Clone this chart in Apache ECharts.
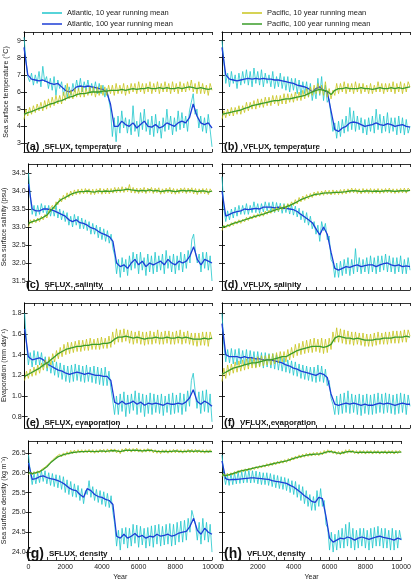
<!DOCTYPE html>
<html>
<head>
<meta charset="utf-8">
<script src="https://cdn.jsdelivr.net/npm/echarts@6/dist/echarts.min.js"></script>
<style>
html, body { margin: 0; padding: 0; background: #fff; }
#chart { width: 414px; height: 582px; }
</style>
</head>
<body>
<div id="chart"></div>
<script>
// sample grids: 10-year series every 100 years, 100-year series every 200 years
var years10 = [];
for (var i = 0; i <= 100; i++) years10.push(i * 100);
var years100 = [];
for (var j = 0; j <= 50; j++) years100.push(j * 200);

var legendNames = ['Atlantic, 10 year running mean', 'Atlantic, 100 year running mean',
                   'Pacific, 10 year running mean', 'Pacific, 100 year running mean'];

var tempTicks = [3, 4, 5, 6, 7, 8, 9];
var salTicks = [31.5, 32.0, 32.5, 33.0, 33.5, 34.0, 34.5];
var evapTicks = [0.8, 1.0, 1.2, 1.4, 1.6, 1.8];
var densTicks = [24.0, 24.5, 25.0, 25.5, 26.0, 26.5];
var yearTicks = [0, 2000, 4000, 6000, 8000, 10000];

// (a) SFLUX temperature
var a_atl10 = [9.2,7.9,6.9,6.6,7.1,6.4,7.0,6.5,7.2,6.3,
  7.5,6.6,6.9,6.2,6.8,6.1,6.9,5.8,6.7,6.2,
  6.6,5.8,6.4,5.7,6.3,5.8,6.5,6.0,6.7,6.1,
  6.8,6.0,6.6,6.1,6.7,6.0,6.5,6.0,6.6,5.9,
  6.5,5.9,6.4,5.7,6.2,5.6,5.0,3.4,4.5,3.1,
  4.6,3.6,4.9,3.9,4.5,3.6,4.4,3.5,5.2,3.7,
  4.3,3.4,4.8,3.8,5.0,3.7,4.4,3.5,4.6,3.4,
  4.7,3.6,4.3,3.3,4.5,3.7,5.0,3.8,4.6,3.5,
  4.5,3.7,4.9,3.8,4.8,3.9,4.6,3.7,4.9,5.4,
  5.9,4.7,5.0,3.9,4.6,3.7,4.5,3.6,4.7,3.8,
  2.8];
var a_atl100 = [8.6,7.0,6.75,6.7,6.65,6.7,6.6,6.5,6.45,6.5,
  6.3,6.1,6.0,6.1,6.3,6.35,6.3,6.35,6.3,6.25,
  6.2,6.15,6.0,5.3,4.0,4.0,4.3,4.1,4.0,4.2,
  3.9,4.1,4.3,4.0,3.95,4.1,3.9,4.0,4.2,4.1,
  4.0,4.2,4.3,4.2,4.5,5.3,4.6,4.2,4.1,4.2,
  3.9];
var a_pac10 = [4.4,5.0,4.6,5.1,4.7,5.2,4.8,5.3,4.9,5.4,
  4.9,5.5,5.0,5.6,5.1,5.7,5.2,5.8,5.3,5.8,
  5.3,6.0,5.5,6.5,5.6,6.1,5.6,6.2,5.7,6.2,
  5.7,6.3,5.7,6.2,5.8,6.3,5.8,6.3,5.7,6.3,
  5.8,6.4,5.8,6.3,5.8,6.4,5.9,6.4,5.8,6.5,
  5.9,6.4,5.9,6.5,5.8,6.4,5.9,6.5,6.0,6.5,
  5.9,6.6,6.0,6.5,5.9,6.5,6.0,6.6,5.9,6.5,
  6.0,6.6,5.9,6.5,6.0,6.6,6.0,6.5,5.9,6.6,
  6.0,6.5,5.9,6.6,6.0,6.5,6.0,6.6,6.1,6.7,
  6.0,6.5,5.9,6.6,5.9,6.5,5.9,6.4,5.8,6.5,
  6.1];
var a_pac100 = [4.7,4.8,4.85,4.95,5.05,5.1,5.2,5.3,5.35,5.45,
  5.5,5.6,5.7,5.75,5.85,5.9,5.9,5.95,6.0,6.0,
  6.0,6.05,6.05,6.1,6.1,6.1,6.15,6.1,6.15,6.2,
  6.15,6.2,6.2,6.25,6.2,6.2,6.25,6.2,6.25,6.2,
  6.2,6.25,6.2,6.25,6.3,6.25,6.2,6.25,6.2,6.15,
  6.2];

// (b) VFLUX temperature
var b_atl10 = [9.0,7.8,6.5,7.1,6.3,7.2,6.5,7.0,6.2,7.1,
  6.4,7.2,6.5,7.3,6.4,7.2,6.3,7.4,6.5,7.2,
  6.4,7.3,6.3,7.1,6.5,7.0,6.3,7.2,6.2,6.9,
  6.3,7.1,6.2,6.9,6.1,6.9,6.0,6.8,6.1,6.8,
  5.9,6.7,5.8,6.6,5.9,6.6,5.7,6.5,5.5,6.2,
  5.6,6.8,5.8,6.9,5.5,6.4,5.4,5.6,4.6,3.7,
  4.2,3.3,4.3,3.4,4.4,3.6,4.6,3.7,5.1,3.8,
  4.9,3.7,4.6,3.8,4.5,3.6,4.4,3.5,4.5,3.7,
  4.6,3.6,5.0,3.8,4.7,3.6,4.6,3.7,4.8,3.6,
  4.5,3.7,4.5,3.5,4.6,3.6,4.5,3.5,4.4,3.6,
  4.0];
var b_atl100 = [8.6,7.0,6.75,6.7,6.65,6.7,6.75,6.8,6.75,6.8,
  6.75,6.8,6.75,6.75,6.7,6.7,6.65,6.6,6.55,6.5,
  6.4,6.35,6.3,6.2,6.0,6.2,6.3,6.1,6.0,4.9,
  3.8,3.7,3.9,4.0,4.2,4.25,4.2,4.1,4.0,4.05,
  4.1,4.2,4.1,4.05,4.15,4.1,4.0,4.05,4.1,4.0,
  3.95];
var b_pac10 = [4.4,4.9,4.5,5.0,4.6,5.1,4.6,5.1,4.7,5.2,
  4.7,5.2,4.8,5.4,4.9,5.4,5.0,5.5,5.0,5.6,
  5.1,5.6,5.1,5.7,5.2,5.7,5.2,5.8,5.3,5.8,
  5.2,5.8,5.3,5.9,5.3,5.9,5.4,5.9,5.4,6.0,
  5.5,6.0,5.5,6.1,5.6,6.2,5.7,6.3,5.8,6.4,
  5.9,6.5,5.9,6.4,5.8,6.6,5.7,6.2,5.6,6.1,
  5.8,6.5,5.9,6.5,6.0,6.6,5.9,6.5,6.0,6.5,
  5.9,6.6,6.0,6.5,5.9,6.5,6.0,6.4,5.9,6.5,
  5.9,6.4,6.0,6.6,6.0,6.5,5.9,6.5,6.0,6.5,
  6.0,6.6,5.9,6.5,6.0,6.6,5.9,6.5,6.0,6.6,
  6.3];
var b_pac100 = [4.7,4.75,4.8,4.85,4.9,4.95,5.05,5.1,5.2,5.25,
  5.3,5.35,5.4,5.45,5.5,5.5,5.55,5.6,5.6,5.65,
  5.7,5.75,5.8,5.9,6.0,6.1,6.15,6.1,6.05,5.85,
  6.1,6.2,6.2,6.25,6.2,6.2,6.2,6.25,6.2,6.2,
  6.15,6.2,6.25,6.2,6.2,6.25,6.2,6.25,6.2,6.25,
  6.3];

// (c) SFLUX salinity
var c_atl10 = [34.5,33.8,33.35,33.6,33.3,33.6,33.35,33.65,33.4,33.6,
  33.35,33.6,33.3,33.55,33.3,33.6,33.25,33.5,33.2,33.45,
  33.15,33.4,33.05,33.3,33.0,33.35,33.05,33.3,32.95,33.25,
  32.95,33.2,32.9,33.15,32.8,33.1,32.8,33.05,32.7,33.0,
  32.65,32.95,32.6,32.9,32.55,32.8,32.4,32.2,31.7,32.1,
  31.6,32.15,31.75,32.1,31.65,32.2,31.8,32.3,31.85,32.25,
  31.7,32.3,31.8,32.15,31.65,32.25,31.75,32.2,31.7,32.3,
  31.75,32.2,31.8,32.25,31.7,32.35,31.85,32.2,31.75,32.25,
  31.7,32.2,31.8,32.3,31.75,32.25,31.85,32.35,32.0,32.65,
  32.8,32.3,32.0,32.25,31.75,32.3,31.85,32.3,31.8,32.2,
  31.5];
var c_atl100 = [34.2,33.5,33.45,33.45,33.5,33.5,33.48,33.45,33.4,33.35,
  33.3,33.2,33.15,33.2,33.12,33.1,33.05,32.98,32.95,32.88,
  32.82,32.78,32.73,32.6,32.0,31.9,31.95,31.85,32.0,32.1,
  31.95,32.05,31.9,32.0,31.95,32.0,32.05,31.95,32.1,32.0,
  31.95,32.05,32.0,32.05,32.2,32.45,32.1,31.95,32.1,32.05,
  32.0];
var c_pac10 = [33.0,33.2,33.1,33.22,33.12,33.25,33.15,33.3,33.2,33.35,
  33.25,33.45,33.4,33.6,33.5,33.7,33.62,33.8,33.7,33.88,
  33.76,33.95,33.82,34.0,33.86,34.03,33.9,34.05,33.91,34.06,
  33.92,34.07,33.93,34.06,33.9,34.05,33.9,34.06,33.93,34.08,
  33.91,34.06,33.92,34.08,33.92,34.07,33.94,34.1,33.95,34.1,
  33.96,34.12,33.96,34.1,33.98,34.18,33.95,34.1,33.94,34.08,
  33.93,34.08,33.95,34.1,33.93,34.08,33.96,34.1,33.93,34.08,
  33.95,34.09,33.91,34.06,33.93,34.08,33.95,34.1,33.92,34.07,
  33.91,34.06,33.93,34.08,33.95,34.09,33.93,34.08,33.95,34.09,
  33.92,34.07,33.9,34.06,33.93,34.07,33.92,34.07,33.9,34.06,
  33.97];
var c_pac100 = [33.1,33.15,33.18,33.22,33.27,33.33,33.45,33.56,33.68,33.77,
  33.82,33.88,33.93,33.96,33.98,33.98,34.0,33.98,33.97,34.0,
  33.98,34.0,33.99,34.0,34.02,34.02,34.03,34.05,34.03,34.02,
  34.0,34.02,34.0,34.03,34.0,34.02,33.98,34.0,34.02,34.0,
  33.98,34.0,34.02,34.0,34.02,34.0,33.98,34.0,34.0,33.97,
  34.0];

// (d) VFLUX salinity
var d_atl10 = [34.4,33.5,33.15,33.45,33.2,33.5,33.25,33.55,33.3,33.6,
  33.35,33.6,33.35,33.65,33.35,33.6,33.4,33.7,33.4,33.65,
  33.38,33.65,33.42,33.7,33.45,33.68,33.42,33.7,33.4,33.68,
  33.42,33.66,33.38,33.65,33.4,33.64,33.36,33.62,33.33,33.58,
  33.28,33.52,33.2,33.45,33.12,33.4,33.05,33.3,32.95,33.15,
  32.8,33.05,32.6,33.15,32.9,33.1,32.65,32.75,32.1,32.0,
  31.6,32.0,31.6,32.05,31.65,32.1,31.7,32.15,31.65,32.1,
  31.7,32.4,31.75,32.15,31.7,32.1,31.75,32.15,31.7,32.2,
  31.75,32.15,31.7,32.2,31.75,32.2,31.8,32.25,31.75,32.2,
  31.75,32.15,31.7,32.15,31.75,32.2,31.7,32.1,31.7,32.15,
  31.8];
var d_atl100 = [34.0,33.3,33.35,33.4,33.43,33.45,33.5,33.48,33.5,33.52,
  33.5,33.55,33.55,33.55,33.53,33.55,33.52,33.52,33.5,33.48,
  33.43,33.35,33.28,33.2,33.12,32.95,32.78,33.0,32.8,32.3,
  31.85,31.8,31.85,31.9,31.88,31.92,31.95,31.9,31.93,31.95,
  31.95,31.9,31.95,31.98,32.0,31.95,31.92,31.95,31.9,31.92,
  31.9];
var d_pac10 = [32.9,33.05,32.97,33.08,33.0,33.12,33.04,33.16,33.08,33.2,
  33.1,33.22,33.14,33.27,33.18,33.3,33.22,33.34,33.25,33.37,
  33.28,33.4,33.3,33.44,33.35,33.47,33.38,33.52,33.42,33.55,
  33.44,33.58,33.48,33.62,33.5,33.65,33.55,33.7,33.6,33.76,
  33.64,33.82,33.7,33.86,33.74,33.9,33.78,33.93,33.82,33.97,
  33.86,33.99,33.87,34.0,33.88,34.02,33.9,34.02,33.89,34.03,
  33.9,34.02,33.9,34.04,33.91,34.05,33.92,34.06,33.94,34.08,
  33.95,34.07,33.93,34.06,33.92,34.07,33.94,34.06,33.93,34.07,
  33.93,34.06,33.94,34.07,33.93,34.06,33.94,34.07,33.95,34.08,
  33.94,34.06,33.93,34.06,33.94,34.07,33.95,34.08,33.94,34.08,
  34.02];
var d_pac100 = [33.0,33.02,33.05,33.1,33.13,33.16,33.2,33.23,33.27,33.3,
  33.33,33.36,33.4,33.43,33.47,33.5,33.53,33.56,33.6,33.65,
  33.7,33.76,33.8,33.84,33.88,33.91,33.92,33.94,33.95,33.95,
  33.96,33.96,33.97,33.98,34.0,34.01,34.0,33.98,34.0,34.0,
  33.99,34.0,33.99,34.0,34.01,34.0,33.99,34.0,34.01,34.0,
  34.02];

// (e) SFLUX evaporation
var e_atl10 = [1.8,1.5,1.3,1.42,1.28,1.44,1.3,1.43,1.3,1.42,
  1.28,1.38,1.24,1.36,1.22,1.34,1.2,1.33,1.18,1.32,
  1.16,1.3,1.14,1.29,1.13,1.3,1.14,1.31,1.15,1.3,
  1.14,1.29,1.13,1.3,1.14,1.28,1.13,1.29,1.12,1.28,
  1.11,1.27,1.1,1.28,1.1,1.24,1.08,0.96,0.82,1.0,
  0.82,1.02,0.85,1.04,0.8,1.01,0.83,1.02,0.86,1.05,
  0.82,1.03,0.84,1.02,0.8,1.01,0.83,1.03,0.82,1.02,
  0.84,1.01,0.83,1.02,0.81,1.0,0.84,1.02,0.82,1.03,
  0.83,1.01,0.84,1.03,0.82,1.02,0.85,1.05,0.9,1.15,
  1.22,1.05,0.88,1.04,0.83,1.05,0.85,1.06,0.84,1.02,
  0.75];
var e_atl100 = [1.65,1.38,1.35,1.36,1.37,1.35,1.31,1.29,1.27,1.25,
  1.24,1.22,1.21,1.22,1.23,1.22,1.21,1.22,1.21,1.2,
  1.2,1.19,1.19,1.15,0.94,0.92,0.95,0.92,0.93,0.95,
  0.92,0.94,0.91,0.93,0.92,0.93,0.92,0.91,0.93,0.92,
  0.92,0.93,0.92,0.94,0.98,1.06,0.95,0.92,0.95,0.93,
  0.9];
var e_pac10 = [1.15,1.24,1.17,1.26,1.19,1.28,1.2,1.3,1.22,1.32,
  1.25,1.35,1.27,1.38,1.3,1.41,1.33,1.44,1.36,1.47,
  1.38,1.5,1.4,1.52,1.41,1.52,1.42,1.53,1.43,1.54,
  1.43,1.54,1.44,1.55,1.44,1.56,1.45,1.55,1.45,1.56,
  1.45,1.57,1.46,1.56,1.46,1.58,1.47,1.62,1.5,1.65,
  1.52,1.64,1.52,1.65,1.53,1.64,1.51,1.63,1.5,1.62,
  1.51,1.63,1.5,1.62,1.49,1.62,1.5,1.63,1.5,1.62,
  1.51,1.64,1.5,1.62,1.5,1.63,1.51,1.63,1.5,1.62,
  1.5,1.63,1.51,1.64,1.5,1.62,1.51,1.63,1.5,1.61,
  1.49,1.61,1.48,1.61,1.49,1.62,1.49,1.62,1.48,1.62,
  1.55];
var e_pac100 = [1.19,1.21,1.23,1.25,1.27,1.3,1.32,1.35,1.38,1.41,
  1.43,1.45,1.46,1.47,1.48,1.48,1.49,1.49,1.5,1.5,
  1.5,1.51,1.51,1.52,1.55,1.57,1.57,1.58,1.57,1.56,
  1.57,1.56,1.55,1.56,1.56,1.57,1.56,1.56,1.57,1.56,
  1.56,1.57,1.56,1.57,1.56,1.55,1.55,1.55,1.56,1.55,
  1.56];

// (f) VFLUX evaporation
var f_atl10 = [1.8,1.5,1.33,1.45,1.32,1.46,1.31,1.45,1.3,1.46,
  1.31,1.44,1.3,1.45,1.29,1.44,1.3,1.43,1.28,1.43,
  1.29,1.42,1.27,1.42,1.28,1.41,1.27,1.41,1.26,1.4,
  1.25,1.38,1.24,1.37,1.23,1.35,1.22,1.34,1.2,1.33,
  1.19,1.31,1.17,1.3,1.16,1.29,1.15,1.28,1.14,1.28,
  1.13,1.3,1.14,1.29,1.13,1.26,1.1,1.15,0.98,0.92,
  0.82,1.0,0.82,1.02,0.83,1.03,0.84,1.05,0.83,1.02,
  0.84,1.01,0.82,1.02,0.81,1.01,0.83,1.02,0.82,1.01,
  0.82,1.02,0.83,1.03,0.84,1.02,0.83,1.03,0.84,1.02,
  0.83,1.01,0.82,1.02,0.83,1.03,0.84,1.02,0.82,1.01,
  0.9];
var f_atl100 = [1.7,1.4,1.38,1.38,1.38,1.37,1.38,1.37,1.37,1.36,
  1.36,1.35,1.35,1.35,1.34,1.33,1.32,1.3,1.29,1.27,
  1.26,1.24,1.23,1.22,1.21,1.2,1.22,1.21,1.18,1.02,
  0.92,0.91,0.92,0.93,0.92,0.93,0.92,0.91,0.92,0.91,
  0.91,0.92,0.93,0.92,0.93,0.92,0.91,0.92,0.93,0.92,
  0.92];
var f_pac10 = [1.14,1.27,1.17,1.3,1.2,1.31,1.22,1.33,1.23,1.34,
  1.24,1.35,1.25,1.36,1.26,1.37,1.27,1.37,1.27,1.38,
  1.28,1.39,1.29,1.39,1.3,1.4,1.3,1.41,1.31,1.42,
  1.32,1.43,1.33,1.43,1.33,1.45,1.35,1.47,1.37,1.5,
  1.39,1.51,1.4,1.53,1.41,1.54,1.42,1.55,1.42,1.56,
  1.43,1.55,1.42,1.56,1.41,1.55,1.42,1.56,1.45,1.62,
  1.52,1.66,1.52,1.65,1.51,1.64,1.5,1.63,1.5,1.62,
  1.49,1.62,1.5,1.61,1.49,1.61,1.48,1.6,1.48,1.6,
  1.48,1.61,1.49,1.62,1.5,1.61,1.5,1.62,1.5,1.62,
  1.51,1.63,1.51,1.63,1.51,1.63,1.52,1.64,1.52,1.64,
  1.58];
var f_pac100 = [1.21,1.23,1.25,1.27,1.28,1.29,1.3,1.31,1.32,1.32,
  1.33,1.34,1.35,1.35,1.36,1.37,1.38,1.38,1.4,1.42,
  1.44,1.45,1.46,1.47,1.48,1.48,1.48,1.47,1.48,1.5,
  1.56,1.58,1.57,1.56,1.56,1.55,1.56,1.55,1.54,1.54,
  1.54,1.55,1.55,1.56,1.56,1.56,1.57,1.57,1.57,1.58,
  1.57];

// (g) SFLUX density
var g_atl10 = [26.45,26.0,25.7,25.98,25.72,26.0,25.75,26.05,25.78,26.05,
  25.72,26.0,25.68,25.98,25.65,25.95,25.62,25.93,25.58,25.9,
  25.5,25.82,25.45,25.78,25.4,25.72,25.38,25.68,25.3,25.6,
  25.22,25.55,25.45,25.8,25.38,25.65,25.3,25.58,25.25,25.55,
  25.2,25.52,25.15,25.48,25.12,25.42,25.0,24.7,24.15,24.55,
  24.05,24.6,24.2,24.62,24.1,24.6,24.15,24.7,24.22,24.68,
  24.12,24.65,24.18,24.6,24.1,24.62,24.15,24.66,24.12,24.68,
  24.2,24.7,24.15,24.65,24.18,24.7,24.2,24.72,24.15,24.7,
  24.18,24.75,24.25,24.78,24.25,24.8,24.3,24.85,24.5,25.05,
  25.1,24.7,24.3,24.75,24.2,24.85,24.3,24.75,24.25,24.7,
  24.0];
var g_atl100 = [26.25,25.83,25.85,25.9,25.92,25.88,25.85,25.83,25.8,25.76,
  25.7,25.62,25.57,25.55,25.45,25.38,25.6,25.55,25.45,25.4,
  25.38,25.33,25.3,25.2,24.4,24.35,24.45,24.35,24.4,24.47,
  24.38,24.42,24.35,24.4,24.38,24.45,24.4,24.42,24.45,24.4,
  24.43,24.48,24.5,24.52,24.65,24.85,24.55,24.45,24.6,24.5,
  24.45];
var g_pac10 = [25.95,26.02,25.95,26.03,25.97,26.05,25.99,26.08,26.03,26.14,
  26.1,26.22,26.2,26.32,26.28,26.4,26.36,26.47,26.4,26.5,
  26.43,26.53,26.46,26.56,26.48,26.57,26.49,26.58,26.5,26.58,
  26.5,26.58,26.5,26.59,26.5,26.58,26.49,26.58,26.5,26.59,
  26.51,26.59,26.5,26.6,26.51,26.6,26.52,26.6,26.5,26.58,
  26.48,26.6,26.52,26.62,26.53,26.61,26.52,26.61,26.53,26.62,
  26.52,26.6,26.51,26.6,26.52,26.61,26.52,26.6,26.5,26.58,
  26.49,26.57,26.48,26.58,26.5,26.58,26.49,26.58,26.5,26.59,
  26.5,26.59,26.5,26.58,26.49,26.58,26.5,26.59,26.5,26.59,
  26.5,26.59,26.5,26.58,26.5,26.58,26.49,26.58,26.5,26.58,
  26.52];
var g_pac100 = [26.0,25.98,26.0,26.03,26.08,26.15,26.25,26.33,26.4,26.44,
  26.47,26.49,26.51,26.52,26.53,26.53,26.54,26.54,26.53,26.54,
  26.55,26.54,26.55,26.56,26.55,26.53,26.56,26.57,26.56,26.57,
  26.56,26.55,26.56,26.57,26.55,26.54,26.53,26.54,26.53,26.54,
  26.55,26.54,26.53,26.54,26.55,26.54,26.55,26.54,26.53,26.54,
  26.53];

// (h) VFLUX density
var h_atl10 = [26.45,25.95,25.7,25.95,25.68,25.98,25.7,26.0,25.72,26.02,
  25.73,26.03,25.74,26.05,25.75,26.06,25.74,26.05,25.75,26.04,
  25.72,26.02,25.7,26.0,25.7,26.0,25.68,25.98,25.65,25.95,
  25.62,25.93,25.6,25.9,25.58,25.88,25.55,25.85,25.5,25.8,
  25.45,25.78,25.38,25.7,25.3,25.65,25.22,25.55,25.15,25.45,
  25.05,25.4,25.05,25.55,25.15,25.6,25.15,25.3,24.7,24.6,
  24.05,24.5,24.0,24.45,24.05,24.55,24.1,24.6,24.1,24.7,
  24.15,24.75,24.1,24.6,24.05,24.55,24.1,24.6,24.15,24.6,
  24.1,24.55,24.05,24.6,24.1,24.62,24.15,24.65,24.15,24.6,
  24.1,24.6,24.1,24.55,24.05,24.6,24.05,24.55,24.1,24.55,
  24.3];
var h_atl100 = [26.3,25.85,25.82,25.83,25.83,25.84,25.85,25.86,25.87,25.87,
  25.86,25.85,25.84,25.83,25.8,25.78,25.77,25.75,25.73,25.68,
  25.64,25.57,25.5,25.42,25.36,25.28,25.25,25.38,25.35,24.9,
  24.35,24.25,24.3,24.35,24.33,24.38,24.35,24.3,24.35,24.38,
  24.35,24.32,24.35,24.38,24.4,24.37,24.35,24.33,24.3,24.35,
  24.32];
var h_pac10 = [25.9,25.98,25.9,25.99,25.92,26.0,25.94,26.03,25.97,26.06,
  26.0,26.08,26.02,26.1,26.04,26.12,26.06,26.14,26.08,26.16,
  26.1,26.18,26.12,26.2,26.14,26.23,26.16,26.25,26.18,26.27,
  26.2,26.29,26.22,26.31,26.24,26.33,26.26,26.36,26.29,26.39,
  26.32,26.42,26.35,26.45,26.37,26.47,26.39,26.49,26.41,26.5,
  26.42,26.51,26.43,26.52,26.43,26.53,26.45,26.56,26.48,26.58,
  26.5,26.57,26.48,26.55,26.46,26.54,26.45,26.55,26.47,26.58,
  26.49,26.59,26.5,26.57,26.48,26.56,26.47,26.56,26.48,26.56,
  26.47,26.56,26.48,26.56,26.47,26.56,26.48,26.56,26.47,26.55,
  26.48,26.56,26.47,26.56,26.48,26.56,26.47,26.56,26.48,26.56,
  26.52];
var h_pac100 = [25.95,25.93,25.95,25.98,26.01,26.04,26.06,26.08,26.1,26.12,
  26.14,26.16,26.18,26.2,26.22,26.24,26.26,26.28,26.3,26.33,
  26.36,26.39,26.41,26.43,26.45,26.46,26.47,26.47,26.49,26.52,
  26.54,26.52,26.5,26.49,26.51,26.53,26.54,26.52,26.51,26.52,
  26.51,26.52,26.51,26.52,26.51,26.52,26.51,26.52,26.51,26.52,
  26.52];

var panels = [
  {tag: '(a)', title: 'SFLUX, temperature', d: [a_atl10, a_atl100, a_pac10, a_pac100], min: 2.5, max: 9.5, ticks: tempTicks, dec: 0, name: 'Sea surface temperature (\u00b0C)'},
  {tag: '(b)', title: 'VFLUX, temperature', d: [b_atl10, b_atl100, b_pac10, b_pac100], min: 2.5, max: 9.5, ticks: tempTicks, dec: 0},
  {tag: '(c)', title: 'SFLUX, salinity', d: [c_atl10, c_atl100, c_pac10, c_pac100], min: 31.25, max: 34.75, ticks: salTicks, dec: 1, name: 'Sea surface salinity (psu)'},
  {tag: '(d)', title: 'VFLUX, salinity', d: [d_atl10, d_atl100, d_pac10, d_pac100], min: 31.25, max: 34.75, ticks: salTicks, dec: 1},
  {tag: '(e)', title: 'SFLUX, evaporation', d: [e_atl10, e_atl100, e_pac10, e_pac100], min: 0.69, max: 1.9, ticks: evapTicks, dec: 1, name: 'Evaporation (mm day\u207b\u00b9)'},
  {tag: '(f)', title: 'VFLUX, evaporation', d: [f_atl10, f_atl100, f_pac10, f_pac100], min: 0.69, max: 1.9, ticks: evapTicks, dec: 1},
  {tag: '(g)', title: 'SFLUX, density', d: [g_atl10, g_atl100, g_pac10, g_pac100], min: 23.8, max: 26.8, ticks: densTicks, dec: 1, name: 'Sea surface density (kg m\u207b\u00b3)'},
  {tag: '(h)', title: 'VFLUX, density', d: [h_atl10, h_atl100, h_pac10, h_pac100], min: 23.8, max: 26.8, ticks: densTicks, dec: 1}
];

var colLeft = [24, 222];
var colWidth = 188;
var rowTop = [32, 164, 303, 441];
var rowHeight = [120, 126, 125, 121];
var colors = ['#1fc6cc', '#1c3ed6', '#c8c41c', '#3a9c28'];
var widths = [0.8, 1.3, 0.8, 1.3];
var font = 'Liberation Sans, Arial, sans-serif';

function pairs(xs, ys) {
  return xs.map(function (x, k) { return [x, ys[k]]; });
}

var grids = [], xAxes = [], yAxes = [], series = [], titles = [];
var axisLine = {show: true, lineStyle: {color: '#000', width: 0.8}};
var tick = {show: true, inside: true, length: 3, lineStyle: {color: '#000', width: 0.8}};

panels.forEach(function (p, k) {
  var col = k % 2, row = Math.floor(k / 2);
  var top = rowTop[row], h = rowHeight[row];
  grids.push({left: colLeft[col], top: top, width: colWidth, height: h});
  var bottomRow = row === 3;
  xAxes.push({
    type: 'value', gridIndex: k, min: 0, max: 10000, interval: 500, position: 'bottom',
    axisLine: axisLine, axisTick: tick, splitLine: {show: false},
    axisLabel: {show: bottomRow, fontSize: 7, color: '#222', fontFamily: font, margin: 4,
      formatter: function (v) { return yearTicks.indexOf(v) >= 0 ? String(v) : ''; }},
    name: bottomRow ? 'Year' : '', nameLocation: 'middle', nameGap: 14,
    nameTextStyle: {fontSize: 7, color: '#222', fontFamily: font}
  });
  xAxes.push({
    type: 'value', gridIndex: k, min: 0, max: 10000, interval: 500, position: 'top',
    axisLine: axisLine, axisTick: tick, axisLabel: {show: false}, splitLine: {show: false}
  });
  var leftCol = col === 0;
  yAxes.push({
    type: 'value', gridIndex: k, min: p.min, max: p.max, position: 'left',
    axisLine: axisLine, splitLine: {show: false},
    axisTick: {show: true, inside: true, length: 3, lineStyle: {color: '#000', width: 0.8}, customValues: p.ticks},
    axisLabel: {show: leftCol, fontSize: 7, color: '#222', fontFamily: font, margin: 3, customValues: p.ticks,
      formatter: function (v) { return Number(v).toFixed(p.dec); }},
    name: leftCol ? p.name : '', nameLocation: 'middle', nameGap: 14,
    nameTextStyle: {fontSize: 7, color: '#222', fontFamily: font}
  });
  yAxes.push({
    type: 'value', gridIndex: k, min: p.min, max: p.max, position: 'right',
    axisLine: axisLine, splitLine: {show: false},
    axisTick: {show: true, inside: true, length: 3, lineStyle: {color: '#000', width: 0.8}, customValues: p.ticks},
    axisLabel: {show: false}
  });
  for (var s = 0; s < 4; s++) {
    series.push({
      name: legendNames[s], type: 'line', xAxisIndex: 2 * k, yAxisIndex: 2 * k,
      data: pairs(s % 2 === 0 ? years10 : years100, p.d[s]),
      showSymbol: false, symbol: 'none', silent: true, z: 2 + s,
      lineStyle: {color: colors[s], width: widths[s]}, itemStyle: {color: colors[s]}
    });
  }
  var big = row === 3 ? 14 : 11;
  titles.push({
    text: '{t|' + p.tag + '} {n|' + p.title + '}',
    left: colLeft[col] + 2, top: top + h - big - 3, padding: 0,
    textStyle: {rich: {
      t: {fontSize: big, fontWeight: 'bold', color: '#111', fontFamily: font},
      n: {fontSize: 8, fontWeight: 'bold', color: '#111', fontFamily: font}
    }}
  });
});

var chart = echarts.init(document.getElementById('chart'));
chart.setOption({
  animation: false,
  backgroundColor: '#fff',
  title: titles,
  legend: [
    {data: legendNames.slice(0, 2), left: 37, top: 4, orient: 'vertical', itemWidth: 20, itemHeight: 1.5, itemGap: 3,
      icon: 'rect', textStyle: {fontSize: 7.5, color: '#222', fontFamily: font}},
    {data: legendNames.slice(2, 4), left: 237, top: 4, orient: 'vertical', itemWidth: 20, itemHeight: 1.5, itemGap: 3,
      icon: 'rect', textStyle: {fontSize: 7.5, color: '#222', fontFamily: font}}
  ],
  grid: grids,
  xAxis: xAxes,
  yAxis: yAxes,
  series: series
});
</script>
</body>
</html>
